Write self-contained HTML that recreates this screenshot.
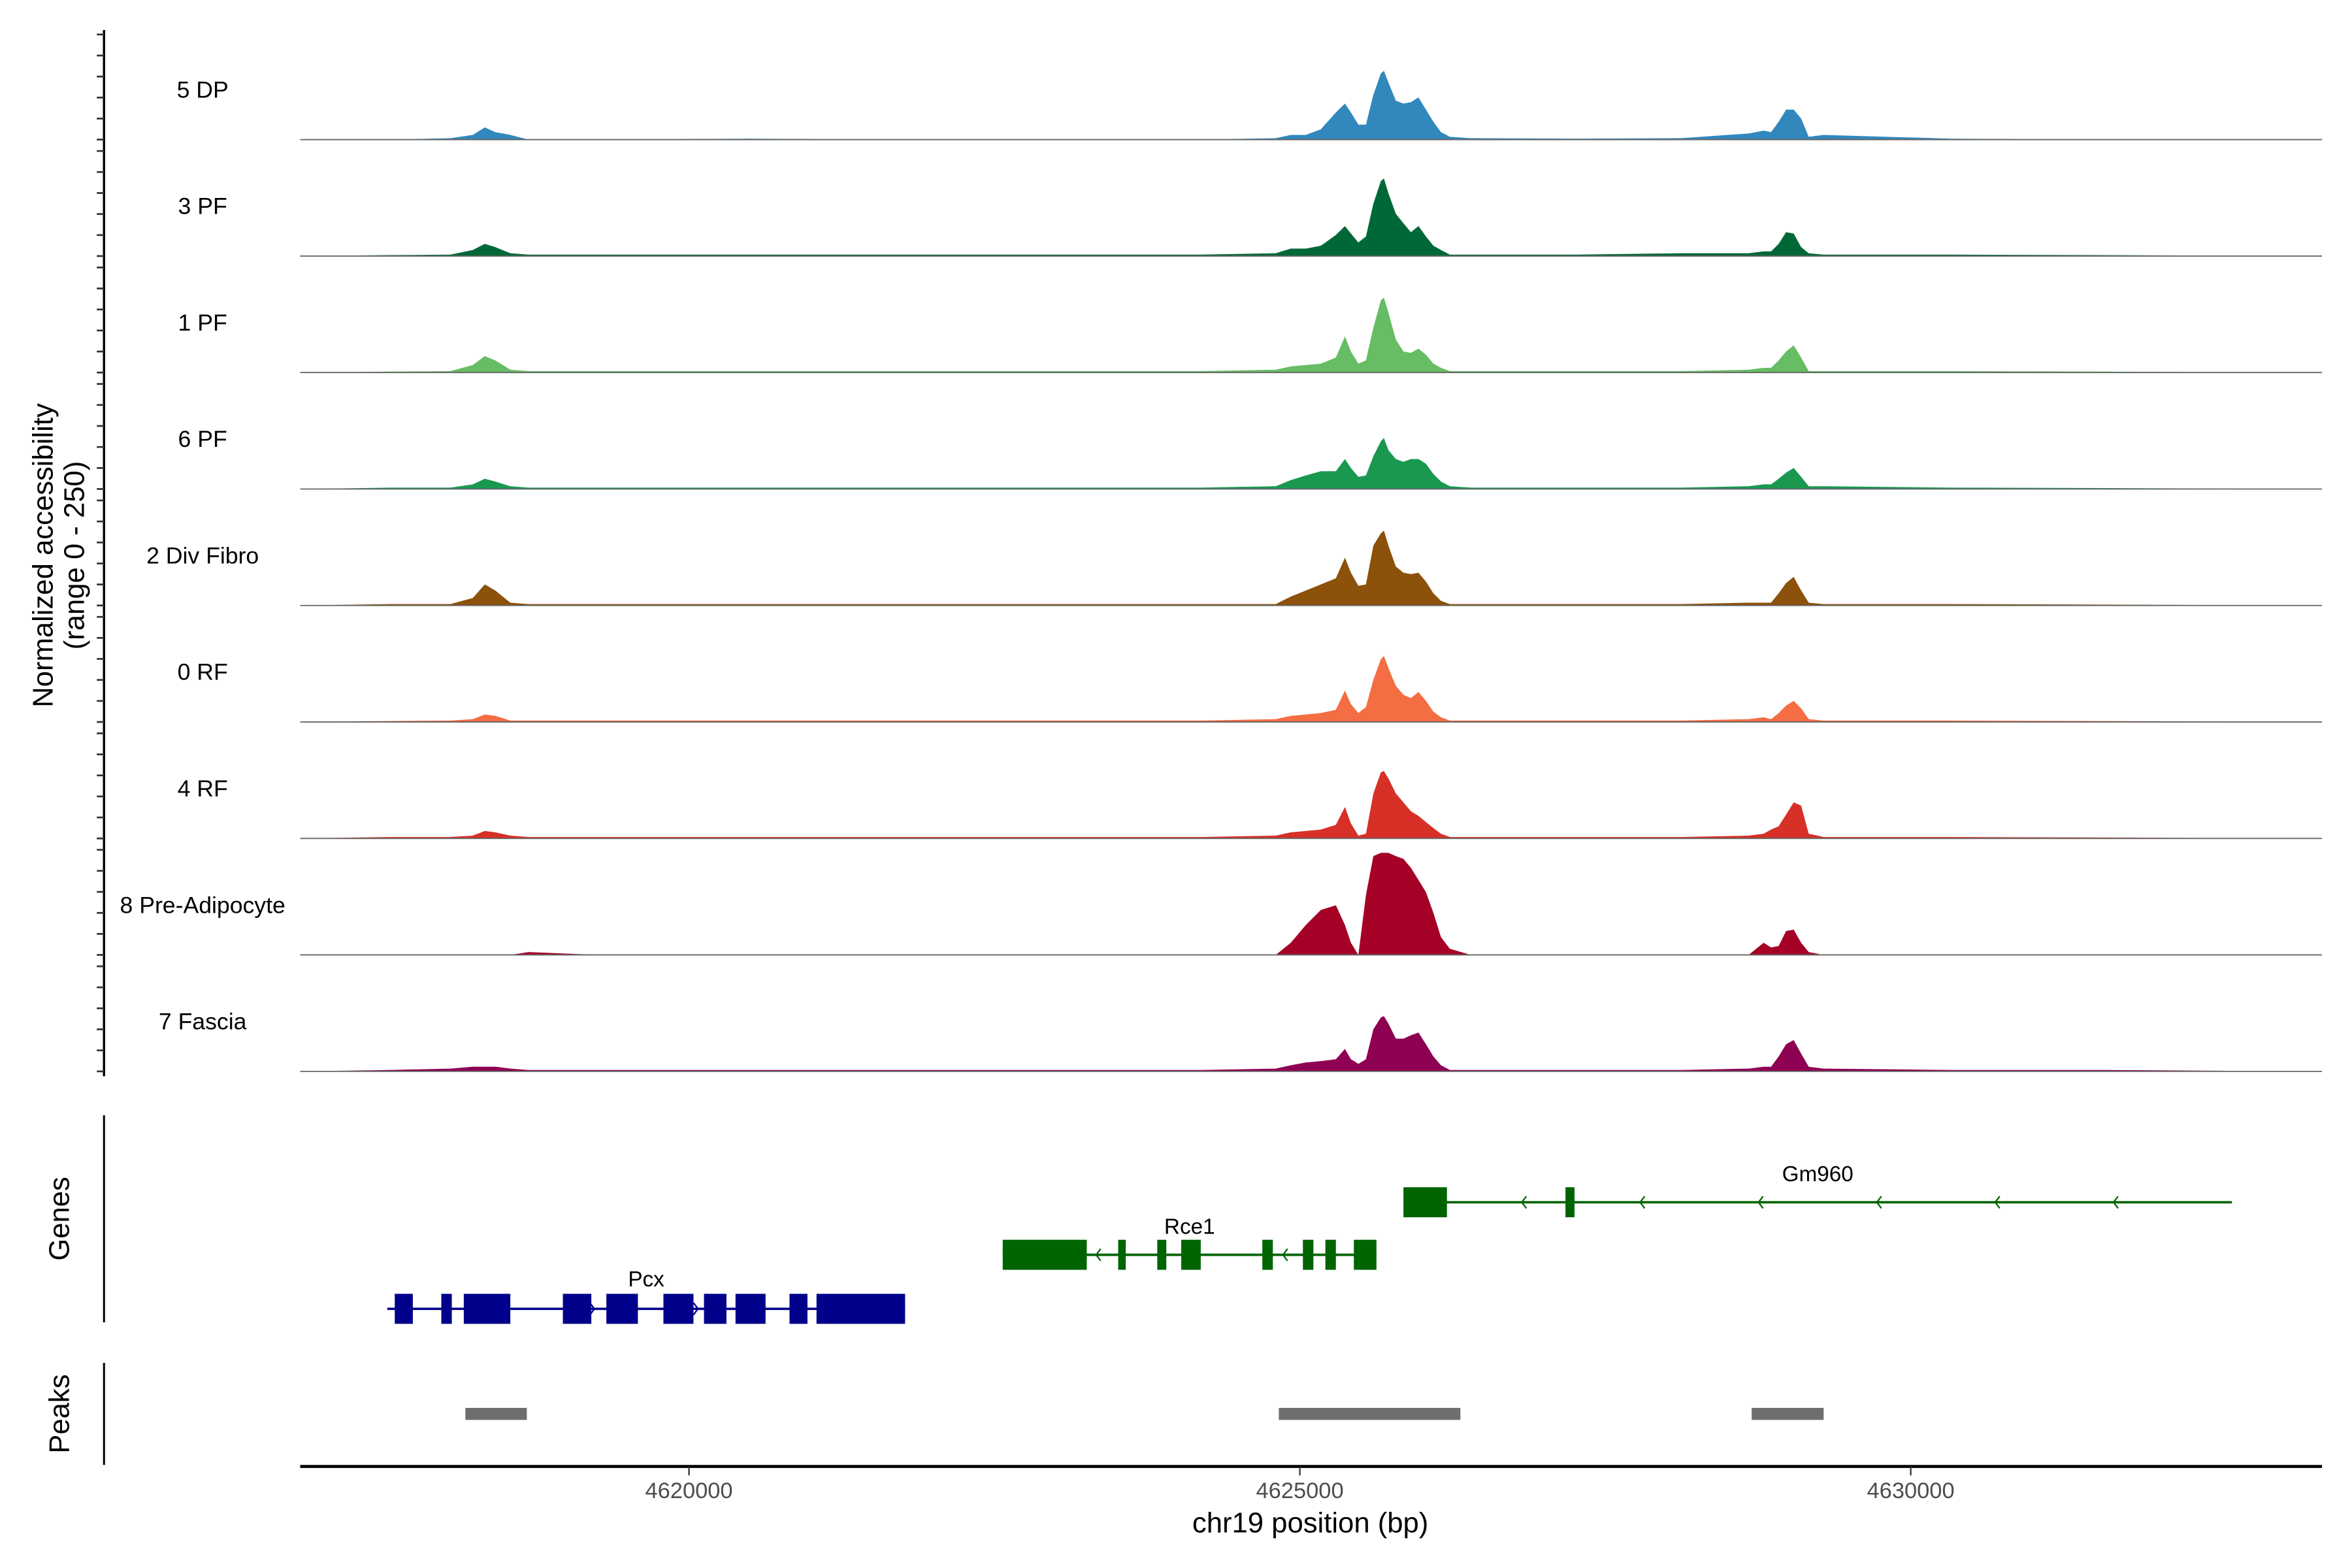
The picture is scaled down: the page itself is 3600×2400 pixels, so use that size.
<!DOCTYPE html>
<html><head><meta charset="utf-8"><style>
html,body{margin:0;padding:0;background:#fff}
svg{display:block}
text{font-family:"Liberation Sans",Arial,sans-serif}
</style></head><body>
<svg id="chart" xmlns="http://www.w3.org/2000/svg" width="3600" height="2400" viewBox="0 0 1567 1044.67">
<rect width="1567" height="1045" fill="#fff"/>
<g id="tracks"></g>
<g id="yaxis"></g>
<text transform="translate(35,370) rotate(-90)" text-anchor="middle" font-size="19">Normalized accessibility</text>
<text transform="translate(56,370) rotate(-90)" text-anchor="middle" font-size="19">(range 0 - 250)</text>
<line x1="69.3" y1="743" x2="69.3" y2="881" stroke="#000" stroke-width="1.3"/>
<text transform="translate(46,812) rotate(-90)" text-anchor="middle" font-size="19">Genes</text>
<g id="genes"></g>
<line x1="69.3" y1="908" x2="69.3" y2="976" stroke="#000" stroke-width="1.3"/>
<text transform="translate(46,942) rotate(-90)" text-anchor="middle" font-size="19">Peaks</text>
<g id="peaks"></g>
<g id="xaxis"></g>
<text x="873" y="1021" text-anchor="middle" font-size="19">chr19 position (bp)</text>
</svg>
<script>
const positions=[4616818,4617555,4618047,4618231,4618329,4618415,4618538,4618686,4619275,4620504,4621732,4622961,4624189,4624803,4624926,4625049,4625172,4625295,4625369,4625418,4625479,4625541,4625602,4625663,4625688,4625725,4625786,4625848,4625909,4625971,4626032,4626093,4626155,4626228,4626400,4627260,4628120,4628673,4628796,4628857,4628919,4628980,4629042,4629103,4629165,4629287,4630332,4631560,4633366];
const trackNames=["5 DP","3 PF","1 PF","6 PF","2 Div Fibro","0 RF","4 RF","8 Pre-Adipocyte","7 Fascia"];
const trackColors=["#3288bd","#006837","#66bd63","#1a9850","#8c510a","#f46d43","#d73027","#a50026","#8e0152"];
const dp5=[0,0,3,10,26,16,10,0,0,2,0,0,0,3,10,10,22,58,77,58,32,32,96,141,147,122,83,77,80,90,64,38,16,6,3,2,3,13,19,16,38,64,64,45,6,10,2,0,0];
const pf3=[0,2,3,13,26,19,6,3,3,3,3,3,3,6,16,16,22,45,64,48,29,42,112,160,166,134,90,70,51,64,42,22,13,3,3,3,6,6,10,10,26,51,48,19,6,3,3,2,0];
const pf1=[0,2,3,16,35,26,6,3,3,3,3,3,3,6,13,16,19,32,77,45,19,26,96,154,160,128,70,45,42,51,38,19,10,3,3,3,3,6,10,10,26,45,58,32,3,3,3,2,0];
const pf6=[0,3,3,10,22,16,6,3,3,3,3,3,3,6,19,29,38,38,64,45,26,29,70,102,109,83,64,58,64,64,54,32,16,6,3,3,3,6,10,10,22,35,45,26,6,6,3,2,0];
const divFibro2=[0,3,3,16,45,32,6,3,3,3,3,3,3,3,19,32,45,58,102,70,42,45,128,154,160,128,83,70,67,70,51,26,10,3,3,3,3,6,6,6,26,48,61,32,6,3,3,2,0];
const rf0=[0,2,3,6,16,13,3,3,3,3,3,3,3,6,13,16,19,26,67,38,19,32,90,134,141,115,77,58,51,64,45,22,10,3,3,3,3,6,10,6,19,35,45,29,6,3,3,2,0];
const rf4=[0,3,3,6,16,13,6,3,3,3,3,3,3,6,13,16,19,29,67,32,6,10,96,141,144,128,96,77,58,48,35,22,10,3,3,3,3,6,10,19,26,51,77,70,10,3,3,2,0];
const preAdipo8=[0,0,0,0,0,0,0,6,0,0,0,0,0,0,26,64,96,106,64,26,0,128,211,218,218,218,211,205,186,160,134,90,38,13,0,0,0,0,26,16,19,51,54,26,6,0,0,0,0];
const fascia7=[0,3,6,10,10,10,6,3,3,3,3,3,3,6,13,19,22,26,48,26,16,26,90,115,118,102,70,70,77,83,58,32,13,3,3,3,3,6,10,10,32,58,67,38,10,6,3,3,0];
const series=[dp5,pf3,pf1,pf6,divFibro2,rf0,rf4,preAdipo8,fascia7];
const xTicks=[4620000,4625000,4630000];
const xTickLabels=["4620000","4625000","4630000"];
const peakStarts=[4618170,4624828,4628698];
const peakEnds=[4618673,4626314,4629287];
const geneNames=["Gm960","Rce1","Pcx"];
const geneStarts=[4625848,4622568,4617531];
const geneEnds=[4632629,4625627,4621769];
const geneStrands=["-","-","+"];
const gm960Exons=[[4625848,4626204],[4627174,4627248]];
const rce1Exons=[[4622568,4623256],[4623513,4623575],[4623833,4623907],[4624029,4624189],[4624693,4624779],[4625025,4625111],[4625209,4625295],[4625442,4625627]];
const pcxExons=[[4617592,4617740],[4617973,4618059],[4618157,4618538],[4618968,4619201],[4619324,4619582],[4619791,4620037],[4620123,4620307],[4620381,4620627],[4620823,4620970],[4621044,4621769]];
const geneExons=[gm960Exons,rce1Exons,pcxExons];
</script>
<script>
const NS="http://www.w3.org/2000/svg";
const X0=200,X1=1547,BP0=4616818,BP1=4633366;
function xs(bp){return X0+(bp-BP0)/(BP1-BP0)*(X1-X0);}
const YMAX=250,TRACK_H=78,FIRST_BASE=93,STEP=77.6;
function ys(v,base){return base-v/YMAX*TRACK_H;}
function mk(tag,attrs,parent){const e=document.createElementNS(NS,tag);for(const k in attrs)e.setAttribute(k,attrs[k]);parent.appendChild(e);return e;}
const tg=document.getElementById('tracks');
series.forEach((vals,i)=>{
  const base=FIRST_BASE+STEP*i;
  let d="M"+xs(positions[0])+","+base;
  vals.forEach((v,j)=>{d+=" L"+xs(positions[j]).toFixed(2)+","+ys(v,base).toFixed(2);});
  d+=" L"+xs(positions[positions.length-1])+","+base+" Z";
  const p=mk('path',{d:d,fill:trackColors[i]},tg);
  
  
  const l=mk('line',{x1:X0,x2:X1,y1:base,y2:base,stroke:'#666','stroke-width':0.8},tg);
  
  
  const t=mk('text',{x:135,y:base-28,'text-anchor':'middle','font-size':15.5},tg);
  t.textContent=trackNames[i];
  
  
});
const ya=document.getElementById('yaxis');
const al=mk('line',{x1:69.3,x2:69.3,y1:20,y2:717,stroke:'#000','stroke-width':1.5},ya);


for(let i=0;i<9;i++){
  const base=FIRST_BASE+STEP*i;
  for(let k=0;k<=5;k++){
    const y=base-k*14;
    const tk=mk('line',{x1:64.5,x2:69.3,y1:y,y2:y,stroke:'#333','stroke-width':1.2},ya);
    
    
  }
}
const pg=document.getElementById('peaks');
peakStarts.forEach((s,i)=>{
  const r=mk('rect',{x:xs(s),y:938,width:xs(peakEnds[i])-xs(s),height:8,fill:'#6e6e6e'},pg);
  
  
});
const gg=document.getElementById('genes');
const geneY=[801,836,872],geneCol=["#006400","#006400","#00008b"],labelY=[787,822,857];
geneNames.forEach((n,i)=>{
  const y=geneY[i],c=geneCol[i];
  const ln=mk('line',{x1:xs(geneStarts[i]),x2:xs(geneEnds[i]),y1:y,y2:y,stroke:c,'stroke-width':1.6},gg);
  
  
  geneExons[i].forEach(ex=>{
    const r=mk('rect',{x:xs(ex[0]),y:y-10,width:Math.max(1.5,xs(ex[1])-xs(ex[0])),height:20,fill:c},gg);
    
    
  });
  const gs=xs(geneStarts[i]),ge=xs(geneEnds[i]);
  const nArr=Math.max(1,Math.floor((ge-gs)/81));
  for(let k=1;k<=nArr;k++){
    const ax=gs+(ge-gs)*k/(nArr+1);
    const dir=geneStrands[i]==="-"?1:-1;
    const a=mk('polyline',{points:(ax+3*dir)+","+(y-4)+" "+ax+","+y+" "+(ax+3*dir)+","+(y+4),fill:'none',stroke:c,'stroke-width':1},gg);
    
    
  }
  const t=mk('text',{x:(gs+ge)/2,y:labelY[i],'text-anchor':'middle','font-size':14.5},gg);
  t.textContent=n;
  
  
});
const xa=document.getElementById('xaxis');
const xl=mk('line',{x1:X0,x2:X1,y1:977,y2:977,stroke:'#000','stroke-width':2},xa);


xTicks.forEach((v,i)=>{
  const x=xs(v);
  const tk=mk('line',{x1:x,x2:x,y1:977,y2:983,stroke:'#333','stroke-width':1},xa);
  
  
  const t=mk('text',{x:x,y:998,'text-anchor':'middle','font-size':15,fill:'#4d4d4d'},xa);
  t.textContent=xTickLabels[i];
  
  
});
</script>
</body></html>
